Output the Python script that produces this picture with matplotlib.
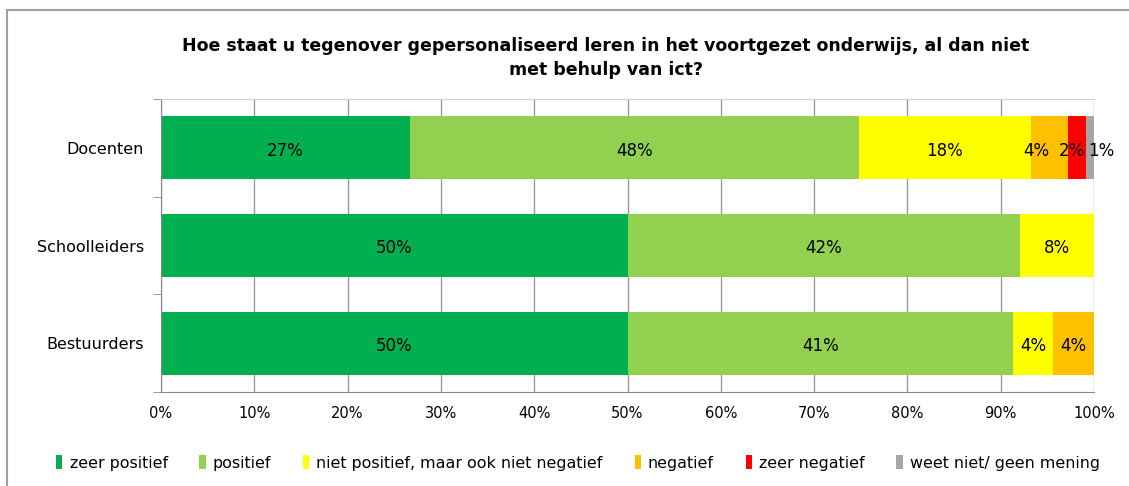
import matplotlib.pyplot as plt
from matplotlib.patches import Rectangle

# donnees (pourcentages par groupe)
groepen = ['Docenten', 'Schoolleiders', 'Bestuurders']
categorieen = ['zeer positief', 'positief', 'niet positief, maar ook niet negatief',
               'negatief', 'zeer negatief', 'weet niet/ geen mening']
zeer_positief = [26.7, 50.0, 50.0]
positief = [48.1, 42.1, 41.3]
neutraal = [18.4, 7.9, 4.35]
negatief = [4.0, 0.0, 4.35]
zeer_negatief = [1.9, 0.0, 0.0]
weet_niet = [0.9, 0.0, 0.0]
kleuren = ['#00B050', '#92D050', '#FFFF00', '#FFC000', '#FF0000', '#A6A6A6']

series = [zeer_positief, positief, neutraal, negatief, zeer_negatief, weet_niet]
titel = 'Hoe staat u tegenover gepersonaliseerd leren in het voortgezet onderwijs, al dan niet\nmet behulp van ict?'

# petits decalages (en points) des etiquettes trop serrees, comme dans Excel
decalage = {(0, 3): -9.5, (0, 4): -3.5, (0, 5): 8.0}

fig = plt.figure(figsize=(11.29, 4.86), dpi=100)
ax = fig.add_axes([161 / 1129, 1 - 392 / 486, (1094 - 161) / 1129, (392 - 99) / 486])

pos = list(range(len(groepen)))
links = [0.0] * len(groepen)
for s, (naam, waarden, kleur) in enumerate(zip(categorieen, series, kleuren)):
    balken = ax.barh(pos, waarden, left=links, height=0.645, color=kleur, label=naam, zorder=2)
    for r, (b, w, l) in enumerate(zip(balken, waarden, links)):
        if w > 0:
            ax.annotate(f'{round(w):.0f}%', (l + w / 2, b.get_y() + b.get_height() / 2 + 0.03),
                        xytext=(decalage.get((r, s), 0), 0), textcoords='offset points',
                        ha='center', va='center', fontsize=12, color='black', zorder=3)
    links = [l + w for l, w in zip(links, waarden)]

ax.set_xlim(0, 100)
ax.set_ylim(len(groepen) - 0.5, -0.5)
ax.set_xticks(range(0, 101, 10))
ax.set_xticklabels([f'{t}%' for t in range(0, 101, 10)], fontsize=10.5)
ax.set_yticks(pos)
ax.set_yticklabels(groepen, fontsize=11.5)
ax.set_yticks([-0.5, 0.5, 1.5, 2.5], minor=True)
ax.tick_params(axis='y', which='major', length=0, pad=12.5)
ax.tick_params(axis='y', which='minor', length=6, color='#888888')
ax.tick_params(axis='x', length=0, pad=10)
ax.xaxis.grid(True, color='#999999', linewidth=1, zorder=0)
ax.set_axisbelow(True)
for kant in ['left', 'bottom']:
    ax.spines[kant].set_color('#888888')
ax.spines['top'].set_color('#d0d0d0')
ax.spines['right'].set_visible(False)

fig.text(606 / 1129, 1 - 58 / 486, titel, ha='center', va='center',
         fontsize=12.5, fontweight='bold', linespacing=1.45)

fig.legend(loc='center', bbox_to_anchor=(578 / 1129, 1 - 463 / 486), ncol=6, frameon=False,
           fontsize=11.4, handlelength=0.4, handleheight=1.0, handletextpad=0.45, columnspacing=2.0)

# cadre gris autour du graphique
fig.add_artist(Rectangle((7 / 1129, -0.1), 1.2, 1.1 - 10 / 486, transform=fig.transFigure,
                         fill=False, edgecolor='#a0a0a0', linewidth=1.5))

plt.savefig('out.png', dpi=100)
